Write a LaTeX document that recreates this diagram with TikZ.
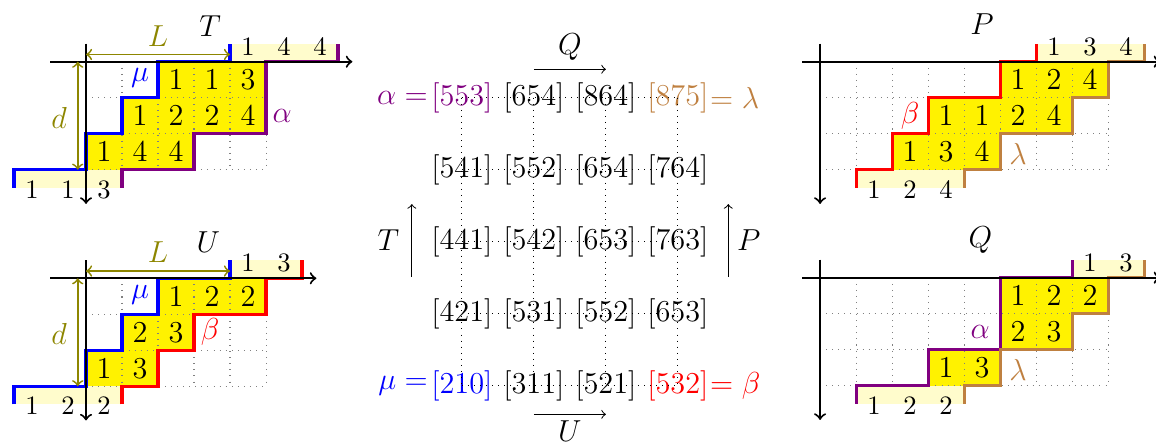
\documentclass[tikz,border=0pt]{standalone}
\begin{document}
\begin{tikzpicture}[x=0.5cm,y=0.5cm,
  every node/.append style={font=\fontsize{12}{14.4}\selectfont},
  num/.style={inner sep=0pt},
  bnum/.style={inner sep=0pt,font=\fontsize{10.5}{12.6}\selectfont},
  cellfill/.style={fill=yellow},
  bar/.style={fill=yellow!20},
  cgrid/.style={dotted,gray},
  ax/.style={thick,->},
  lp/.style={line width=1.2pt},
  dimen/.style={olive,line width=0.7pt,<->},
  conn/.style={->},
  mid/.style={inner sep=1.5pt},
]
\useasboundingbox (0,0) rectangle (32.111,-12.361);

% ---------------- T diagram ----------------
\begin{scope}[shift={(2.389,-1.714)}]
  \fill[bar] (4,0) rectangle (7,0.5);
  \fill[bar] (-2,-3) rectangle (1,-3.5);
  \foreach \cx/\cy/\cn in {2/0/1,3/0/1,4/0/3,1/1/1,2/1/2,3/1/2,4/1/4,0/2/1,1/2/4,2/2/4}
    {\fill[cellfill] (\cx,-\cy) rectangle ++(1,-1);
     \node[num] (T-\cx-\cy) at (\cx+0.5,-\cy-0.5) {\cn};}
  \foreach \gx in {1,...,5} \draw[cgrid] (\gx,0) -- (\gx,-3);
  \foreach \gy in {1,2,3} \draw[cgrid] (0,-\gy) -- (5,-\gy);
  \draw[lp,blue] (-2,-3.5) -- (-2,-3) -- (0,-3) -- (0,-2) -- (1,-2) -- (1,-1) -- (2,-1) -- (2,0) -- (4,0) -- (4,0.5);
  \draw[lp,violet] (1,-3.5) -- (1,-3) -- (3,-3) -- (3,-2) -- (5,-2) -- (5,0) -- (7,0) -- (7,0.5);
  \coordinate (Tx0) at (-1,0); \coordinate (Tx1) at (7.4,0);
  \coordinate (Ty0) at (0,0.5); \coordinate (Ty1) at (0,-3.95);
  \draw[ax] (Tx0) -- (Tx1);
  \draw[ax] (Ty0) -- (Ty1);
  \foreach \i/\n in {1/1,2/4,3/4} \node[bnum] (Tt\i) at (3.5+\i,0.42) {\n};
  \foreach \i/\n in {1/1,2/1,3/3} \node[bnum] (Tb\i) at (-2.5+\i,-3.55) {\n};
  \coordinate (TL1) at (0,0.2); \coordinate (TL2) at (4,0.2);
  \draw[dimen] (TL1) -- (TL2);
  \node[olive] (TLl) at (2,0.72) {$L$};
  \coordinate (Td1) at (-0.23,0); \coordinate (Td2) at (-0.23,-3);
  \draw[dimen] (Td1) -- (Td2);
  \node[olive] (Tdl) at (-0.75,-1.55) {$d$};
  \node (Tlab) at (3.45,1) {$T$};
  \node[blue] (Tmu) at (1.5,-0.45) {$\mu$};
  \node[violet] (Talpha) at (5.45,-1.5) {$\alpha$};
\end{scope}

% ---------------- U diagram ----------------
\begin{scope}[shift={(2.389,-7.73)}]
  \fill[bar] (4,0) rectangle (6,0.5);
  \fill[bar] (-2,-3) rectangle (1,-3.5);
  \foreach \cx/\cy/\cn in {2/0/1,3/0/2,4/0/2,1/1/2,2/1/3,0/2/1,1/2/3}
    {\fill[cellfill] (\cx,-\cy) rectangle ++(1,-1);
     \node[num] (U-\cx-\cy) at (\cx+0.5,-\cy-0.5) {\cn};}
  \foreach \gx in {1,...,5} \draw[cgrid] (\gx,0) -- (\gx,-3);
  \foreach \gy in {1,2,3} \draw[cgrid] (0,-\gy) -- (5,-\gy);
  \draw[lp,blue] (-2,-3.5) -- (-2,-3) -- (0,-3) -- (0,-2) -- (1,-2) -- (1,-1) -- (2,-1) -- (2,0) -- (4,0) -- (4,0.5);
  \draw[lp,red] (1,-3.5) -- (1,-3) -- (2,-3) -- (2,-2) -- (3,-2) -- (3,-1) -- (5,-1) -- (5,0) -- (6,0) -- (6,0.5);
  \coordinate (Ux0) at (-1,0); \coordinate (Ux1) at (6.4,0);
  \coordinate (Uy0) at (0,0.5); \coordinate (Uy1) at (0,-3.95);
  \draw[ax] (Ux0) -- (Ux1);
  \draw[ax] (Uy0) -- (Uy1);
  \foreach \i/\n in {1/1,2/3} \node[bnum] (Ut\i) at (3.5+\i,0.42) {\n};
  \foreach \i/\n in {1/1,2/2,3/2} \node[bnum] (Ub\i) at (-2.5+\i,-3.55) {\n};
  \coordinate (UL1) at (0,0.2); \coordinate (UL2) at (4,0.2);
  \draw[dimen] (UL1) -- (UL2);
  \node[olive] (ULl) at (2,0.72) {$L$};
  \coordinate (Ud1) at (-0.23,0); \coordinate (Ud2) at (-0.23,-3);
  \draw[dimen] (Ud1) -- (Ud2);
  \node[olive] (Udl) at (-0.75,-1.55) {$d$};
  \node (Ulab) at (3.4,1) {$U$};
  \node[blue] (Umu) at (1.5,-0.45) {$\mu$};
  \node[red] (Ubeta) at (3.45,-1.5) {$\beta$};
\end{scope}

% ---------------- P diagram ----------------
\begin{scope}[shift={(22.78,-1.714)}]
  \fill[bar] (6,0) rectangle (9,0.5);
  \fill[bar] (1,-3) rectangle (4,-3.5);
  \foreach \cx/\cy/\cn in {5/0/1,6/0/2,7/0/4,3/1/1,4/1/1,5/1/2,6/1/4,2/2/1,3/2/3,4/2/4}
    {\fill[cellfill] (\cx,-\cy) rectangle ++(1,-1);
     \node[num] (P-\cx-\cy) at (\cx+0.5,-\cy-0.5) {\cn};}
  \foreach \gx in {1,...,8} \draw[cgrid] (\gx,0) -- (\gx,-3);
  \foreach \gy in {1,2,3} \draw[cgrid] (0,-\gy) -- (8,-\gy);
  \draw[lp,red] (1,-3.5) -- (1,-3) -- (2,-3) -- (2,-2) -- (3,-2) -- (3,-1) -- (5,-1) -- (5,0) -- (6,0) -- (6,0.5);
  \draw[lp,brown] (4,-3.5) -- (4,-3) -- (5,-3) -- (5,-2) -- (7,-2) -- (7,-1) -- (8,-1) -- (8,0) -- (9,0) -- (9,0.5);
  \coordinate (Px0) at (-0.5,0); \coordinate (Px1) at (9.45,0);
  \coordinate (Py0) at (0,0.5); \coordinate (Py1) at (0,-3.95);
  \draw[ax] (Px0) -- (Px1);
  \draw[ax] (Py0) -- (Py1);
  \foreach \i/\n in {1/1,2/3,3/4} \node[bnum] (Pt\i) at (5.5+\i,0.42) {\n};
  \foreach \i/\n in {1/1,2/2,3/4} \node[bnum] (Pb\i) at (0.5+\i,-3.55) {\n};
  \node (Plab) at (4.5,1.05) {$P$};
  \node[red] (Pbeta) at (2.5,-1.5) {$\beta$};
  \node[brown] (Plambda) at (5.5,-2.55) {$\lambda$};
\end{scope}

% ---------------- Q diagram ----------------
\begin{scope}[shift={(22.78,-7.714)}]
  \fill[bar] (7,0) rectangle (9,0.5);
  \fill[bar] (1,-3) rectangle (4,-3.5);
  \foreach \cx/\cy/\cn in {5/0/1,6/0/2,7/0/2,5/1/2,6/1/3,3/2/1,4/2/3}
    {\fill[cellfill] (\cx,-\cy) rectangle ++(1,-1);
     \node[num] (Q-\cx-\cy) at (\cx+0.5,-\cy-0.5) {\cn};}
  \foreach \gx in {1,...,8} \draw[cgrid] (\gx,0) -- (\gx,-3);
  \foreach \gy in {1,2,3} \draw[cgrid] (0,-\gy) -- (8,-\gy);
  \draw[lp,violet] (1,-3.5) -- (1,-3) -- (3,-3) -- (3,-2) -- (5,-2) -- (5,0) -- (7,0) -- (7,0.5);
  \draw[lp,brown] (4,-3.5) -- (4,-3) -- (5,-3) -- (5,-2) -- (7,-2) -- (7,-1) -- (8,-1) -- (8,0) -- (9,0) -- (9,0.5);
  \coordinate (Qx0) at (-0.5,0); \coordinate (Qx1) at (9.45,0);
  \coordinate (Qy0) at (0,0.5); \coordinate (Qy1) at (0,-3.95);
  \draw[ax] (Qx0) -- (Qx1);
  \draw[ax] (Qy0) -- (Qy1);
  \foreach \i/\n in {1/1,2/3} \node[bnum] (Qt\i) at (6.5+\i,0.42) {\n};
  \foreach \i/\n in {1/1,2/2,3/2} \node[bnum] (Qb\i) at (0.5+\i,-3.55) {\n};
  \node (Qlab) at (4.45,1.05) {$Q$};
  \node[violet] (Qalpha) at (4.45,-1.5) {$\alpha$};
  \node[brown] (Qlambda) at (5.5,-2.55) {$\lambda$};
\end{scope}

% ---------------- centre ----------------
\foreach \row/\a/\b/\c/\d/\ca/\cd in {1/553/654/864/875/violet/brown,2/541/552/654/764/black/black,3/441/542/653/763/black/black,4/421/531/552/653/black/black,5/210/311/521/532/blue/red}
{
  \node[mid,text=\ca] (m-\row-1) at (12.83,-2.714-2*\row+2) {[\a]};
  \node[mid] (m-\row-2) at (14.83,-2.714-2*\row+2) {[\b]};
  \node[mid] (m-\row-3) at (16.83,-2.714-2*\row+2) {[\c]};
  \node[mid,text=\cd] (m-\row-4) at (18.83,-2.714-2*\row+2) {[\d]};
}
\foreach \row in {1,...,5}
  \draw[dotted] (m-\row-1.center) -- (m-\row-4.center);
\foreach \col in {1,...,4}
  \draw[dotted] (m-1-\col.center) -- (m-5-\col.center);
\node[inner sep=0pt,violet,anchor=east] (alab) at ([xshift=0.5pt]m-1-1.west) {$\alpha =$};
\node[inner sep=0pt,brown,anchor=west] (llab) at ([xshift=-1.2pt]m-1-4.east) {$= \lambda$};
\node[inner sep=0pt,blue,anchor=east] (mlab) at ([xshift=0.5pt]m-5-1.west) {$\mu =$};
\node[inner sep=0pt,red,anchor=west] (blab) at ([xshift=-1.2pt]m-5-4.east) {$= \beta$};

\coordinate (Qs) at (14.83,-1.925); \coordinate (Qe) at (16.83,-1.925);
\draw[conn] (Qs) -- (Qe);
\node (Qtxt) at (15.83,-1.30) {$Q$};
\coordinate (Us) at (14.83,-11.51); \coordinate (Ue) at (16.83,-11.51);
\draw[conn] (Us) -- (Ue);
\node[inner sep=0pt] (Utxt) at (15.83,-11.98) {$U$};
\coordinate (Ts) at (11.44,-7.69); \coordinate (Te) at (11.44,-5.67);
\draw[conn] (Ts) -- (Te);
\node (Ttxt) at (10.79,-6.67) {$T$};
\coordinate (Ps) at (20.23,-7.69); \coordinate (Pe) at (20.23,-5.67);
\draw[conn] (Ps) -- (Pe);
\node (Ptxt) at (20.8,-6.67) {$P$};
\end{tikzpicture}
\end{document}
